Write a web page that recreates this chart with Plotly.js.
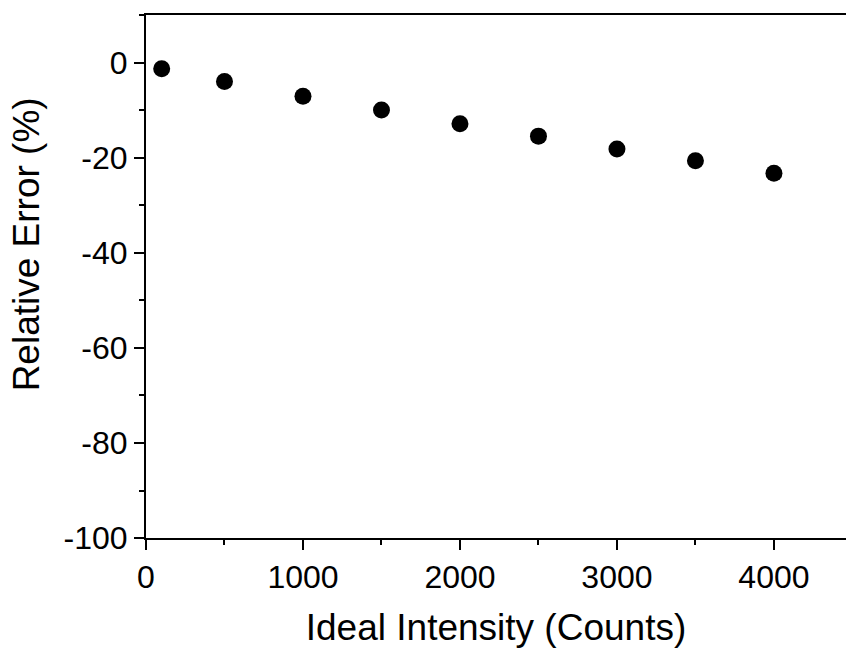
<!DOCTYPE html>
<html>
<head>
<meta charset="utf-8">
<script src="https://cdn.plot.ly/plotly-3.0.1.min.js"></script>
<style>html,body{margin:0;padding:0;background:#fff;overflow:hidden}</style>
</head>
<body>
<div id="chart" style="width:846px;height:648px"></div>
<script>
const intensity = [100, 500, 1000, 1500, 2000, 2500, 3000, 3500, 4000];
const relError = [-1.2, -3.9, -7.0, -9.9, -12.8, -15.4, -18.1, -20.6, -23.2];
const xTickVals = [0, 1000, 2000, 3000, 4000];
const xTickText = ["0", "1000", "2000", "3000", "4000"];
const yTickVals = [0, -20, -40, -60, -80, -100];
const yTickText = ["0", "-20", "-40", "-60", "-80", "-100"];
const xTitle = 'Ideal Intensity (Counts)';
const yTitle = 'Relative Error (%)';

const trace = {
  x: intensity, y: relError, type: 'scatter', mode: 'markers',
  marker: {color: '#000', size: 17}, showlegend: false
};
const font = "'Liberation Sans', Arial, sans-serif";
const layout = {
  width: 846, height: 648,
  margin: {l: 146, r: 0, t: 15, b: 110},
  paper_bgcolor: '#fff', plot_bgcolor: '#fff',
  font: {family: font, color: '#000'},
  xaxis: {
    range: [0, 4459], showgrid: false, zeroline: false,
    showline: true, linecolor: '#000', linewidth: 2, mirror: true,
    ticks: 'outside', ticklen: 10, tickwidth: 2, tickcolor: '#000',
    tickvals: xTickVals, ticktext: xTickText,
    tickfont: {size: 32, family: font, color: '#000'},
    minor: {dtick: 500, tick0: 0, ticks: 'outside', ticklen: 5, tickwidth: 2, tickcolor: '#000', showgrid: false},
    title: {text: xTitle, font: {size: 37, family: font, color: '#000'}, standoff: 30}
  },
  yaxis: {
    range: [-100, 10.1], showgrid: false, zeroline: false,
    showline: true, linecolor: '#000', linewidth: 2, mirror: false,
    ticks: 'outside', ticklen: 10, tickwidth: 2, tickcolor: '#000',
    tickvals: yTickVals, ticktext: yTickText,
    tickfont: {size: 32, family: font, color: '#000'},
    minor: {dtick: 10, tick0: 0, ticks: 'outside', ticklen: 5, tickwidth: 2, tickcolor: '#000', showgrid: false}
  },
  annotations: [{
    text: yTitle, textangle: -90, showarrow: false,
    xref: 'paper', yref: 'paper', x: -0.171, y: 0.562,
    xanchor: 'center', yanchor: 'middle',
    font: {size: 37, family: font, color: '#000'}
  }]
};
Plotly.newPlot('chart', [trace], layout, {displayModeBar: false, staticPlot: true});
</script>
</body>
</html>
